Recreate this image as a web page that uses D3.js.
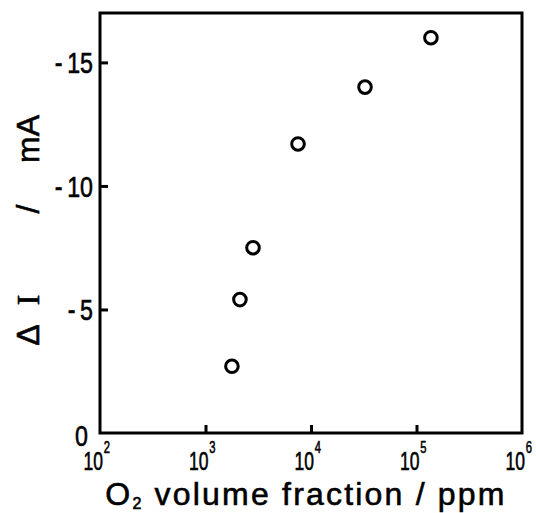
<!DOCTYPE html>
<html>
<head>
<meta charset="utf-8">
<script src="https://d3js.org/d3.v7.min.js"></script>
<style>
  body { margin: 0; background: #fff; }
  text { font-family: "Liberation Sans", Arial, sans-serif; fill: #000; stroke: #000; stroke-width: 0.6px; }
</style>
</head>
<body>
<script>
// data
var o2ppm = [1780, 2120, 2820, 7530, 32500, 137000];
var deltaI = [-2.7, -5.4, -7.5, -11.7, -14.0, -16.0];
var yTicks = [0, -5, -10, -15];
var xTickExp = [2, 3, 4, 5, 6];

var W = 536, H = 513;
var plot = { left: 100, right: 522, top: 13, bottom: 433 };

var svg = d3.select("body").append("svg")
  .attr("width", W).attr("height", H);

var x = d3.scaleLog().domain([1e2, 1e6]).range([plot.left, plot.right]);
var y = d3.scaleLinear().domain([0, -17]).range([plot.bottom, plot.top]);

// inward ticks, labels drawn separately (narrow lettering)
var yAxis = d3.axisLeft(y).tickValues(yTicks.filter(function(d) { return d !== 0; }))
  .tickSize(-8).tickFormat("");
var gy = svg.append("g").attr("transform", "translate(" + plot.left + ",0)").call(yAxis);
gy.select(".domain").remove();
gy.selectAll("line").attr("stroke", "#000").attr("stroke-width", 3);

yTicks.forEach(function(d) {
  var lab = d === 0 ? "0" : "-\u2009" + Math.abs(d);
  var ty = d === 0 ? 446 : y(d) + 11;
  var tx = d === 0 ? 88 : 93;
  svg.append("g").attr("transform", "translate(" + tx + "," + ty + ") scale(0.8,1)")
    .append("text").attr("text-anchor", "end").style("font-size", "29px").text(lab);
});

var xAxis = d3.axisBottom(x).tickValues(xTickExp.slice(1, -1).map(function(e) { return Math.pow(10, e); }))
  .tickSize(-8).tickFormat("");
var gx = svg.append("g").attr("transform", "translate(0," + plot.bottom + ")").call(xAxis);
gx.select(".domain").remove();
gx.selectAll("line").attr("stroke", "#000").attr("stroke-width", 3);

// x tick labels 10^n, "10" ends at the tick, exponent after it
xTickExp.forEach(function(e) {
  var g = svg.append("g")
    .attr("transform", "translate(" + (x(Math.pow(10, e)) + 3) + ",470) scale(0.7,1)");
  g.append("text").attr("text-anchor", "end").style("font-size", "25px").text("10");
  g.append("text").attr("x", 1).attr("y", -17).style("font-size", "16px").text(e);
});

// frame
svg.append("rect")
  .attr("x", plot.left).attr("y", plot.top)
  .attr("width", plot.right - plot.left).attr("height", plot.bottom - plot.top)
  .attr("fill", "none").attr("stroke", "#000").attr("stroke-width", 3);

// points
svg.selectAll("circle.pt").data(o2ppm).enter().append("circle")
  .attr("class", "pt")
  .attr("cx", function(d) { return x(d); })
  .attr("cy", function(d, i) { return y(deltaI[i]); })
  .attr("r", 6.3)
  .attr("fill", "none").attr("stroke", "#000").attr("stroke-width", 3);

// x title
var xt = svg.append("text").attr("x", 306).attr("y", 505)
  .attr("text-anchor", "middle").style("font-size", "32px")
  .style("letter-spacing", "2.2px");
xt.append("tspan").text("O");
xt.append("tspan").attr("dy", 4).style("font-size", "16px").text("2");
xt.append("tspan").attr("dy", -4).text(" volume fraction / ppm");

// y title, spread out along the axis
var yParts = [
  { t: "\u0394", c: 335, f: "Liberation Sans" },
  { t: "I", c: 300, f: "Liberation Serif" },
  { t: "/", c: 209, f: "Liberation Sans" },
  { t: "mA", c: 139, f: "Liberation Sans" }
];
yParts.forEach(function(p) {
  svg.append("text")
    .attr("transform", "translate(39," + p.c + ") rotate(-90)")
    .attr("text-anchor", "middle")
    .style("font-size", "32px")
    .style("font-family", p.f)
    .text(p.t);
});
</script>
</body>
</html>
